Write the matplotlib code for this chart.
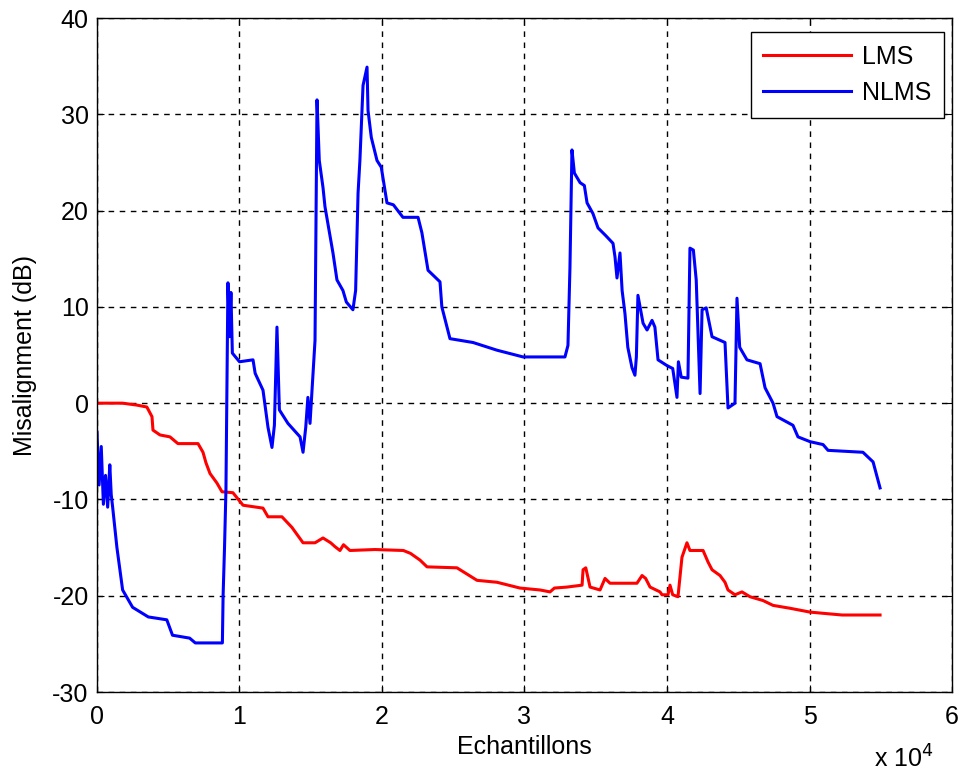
import numpy as np
import matplotlib.pyplot as plt
from matplotlib.ticker import FuncFormatter

plt.rcParams['font.family'] = ['Liberation Sans', 'DejaVu Sans']
plt.rcParams['axes.unicode_minus'] = False

# NLMS misalignment (samples, dB)
nlms_x = [0, 150, 300, 450, 600, 750, 900, 1000, 1100, 1400, 1800, 2500, 3600, 4900, 5300,
          6500, 6900, 8800, 8850, 8950, 9050, 9190, 9300, 9400, 9500, 10000, 10950, 11100,
          11650, 12000, 12280, 12450, 12630, 12800, 13400, 14250, 14460, 14650, 14800, 14950,
          15300, 15440, 15600, 15860, 16000, 16200, 16560, 16840, 17260, 17500, 17960, 18150,
          18320, 18450, 18670, 18950, 19020, 19250, 19650, 19950, 20350, 20800, 21470, 22530,
          22800, 23230, 24070, 24200, 24770, 26390, 28070, 29900, 32840, 33050, 33190, 33330,
          33500, 33900, 34200, 34390, 34800, 35160, 35700, 36210, 36350, 36490, 36700, 36850,
          37050, 37250, 37540, 37750, 37850, 37960, 38320, 38600, 38950, 39150, 39370, 40000,
          40400, 40700, 40800, 41000, 41470, 41610, 41850, 42050, 42320, 42460, 42750, 43160,
          44070, 44280, 44770, 44910, 45100, 45610, 46530, 46880, 47440, 47720, 48840, 49190,
          50040, 50950, 51300, 53750, 54460, 54950]
nlms_y = [-3.0, -8.5, -4.5, -10.5, -7.5, -10.8, -6.4, -9.5, -10.8, -15.0, -19.4, -21.2, -22.2,
          -22.5, -24.1, -24.4, -24.9, -24.9, -20.0, -15.0, -9.0, 12.5, 6.9, 11.5, 5.2, 4.3, 4.5,
          3.1, 1.35, -2.5, -4.6, -2.3, 7.9, -0.7, -2.1, -3.5, -5.1, -2.5, 0.6, -2.1, 6.5, 31.5,
          25.2, 22.4, 20.4, 18.7, 15.6, 12.8, 11.7, 10.5, 9.7, 11.7, 21.8, 25.2, 33.0, 34.9,
          30.4, 27.6, 25.2, 24.5, 20.8, 20.6, 19.3, 19.3, 17.7, 13.8, 12.6, 10.0, 6.7, 6.3, 5.5,
          4.8, 4.8, 6.0, 14.1, 26.3, 23.9, 22.9, 22.6, 20.8, 19.7, 18.2, 17.4, 16.6, 15.2, 13.0,
          15.6, 11.7, 9.3, 5.8, 3.7, 2.9, 4.8, 11.2, 8.3, 7.6, 8.6, 7.9, 4.5, 3.9, 3.6, 0.6, 4.3,
          2.7, 2.6, 16.1, 15.9, 12.8, 1.0, 9.7, 9.9, 6.9, 6.3, -0.5, 0.0, 10.9, 5.8, 4.5, 4.1,
          1.6, 0.0, -1.4, -2.3, -3.5, -4.0, -4.3, -4.9, -5.1, -6.1, -8.8]

# LMS misalignment (samples, dB)
lms_x = [0, 1800, 2800, 3500, 3860, 3930, 4420, 5120, 5680, 7090, 7440, 7650, 7930, 8420,
         8770, 9540, 10250, 11650, 12000, 12980, 13680, 14460, 15300, 15860, 16400, 16700,
         17050, 17300, 17750, 19500, 21500, 22000, 22670, 23160, 25260, 26670, 28070, 29680,
         31090, 31790, 32100, 32980, 34040, 34110, 34300, 34600, 35300, 35650, 36000, 37890,
         38250, 38500, 38810, 39510, 39650, 40070, 40210, 40400, 40770, 41050, 41400, 41610,
         42530, 42880, 43160, 43720, 44070, 44280, 44770, 45260, 45820, 46740, 47440, 48630,
         50040, 52280, 54950]
lms_y = [0.0, 0.0, -0.2, -0.4, -1.4, -2.8, -3.3, -3.5, -4.2, -4.2, -5.1, -6.2, -7.3, -8.3,
         -9.2, -9.3, -10.6, -10.9, -11.8, -11.8, -12.9, -14.5, -14.5, -14.0, -14.5, -14.9,
         -15.3, -14.7, -15.3, -15.2, -15.3, -15.6, -16.3, -17.0, -17.1, -18.4, -18.6, -19.2,
         -19.4, -19.6, -19.2, -19.1, -18.9, -17.3, -17.1, -19.1, -19.4, -18.2, -18.7, -18.7,
         -17.9, -18.2, -19.1, -19.6, -19.9, -19.9, -18.9, -19.9, -20.1, -16.0, -14.5, -15.3,
         -15.3, -16.5, -17.3, -17.9, -18.6, -19.4, -19.9, -19.6, -20.1, -20.5, -21.0, -21.3,
         -21.7, -22.0, -22.0]

fig = plt.figure(figsize=(9.63, 7.76), dpi=100)
ax = fig.add_axes([0.1007, 0.1082, 0.8879, 0.8686])

ax.plot(lms_x, lms_y, color='#ff0000', linewidth=2.2, label='LMS')
ax.plot(nlms_x, nlms_y, color='#0000ff', linewidth=2.2, label='NLMS')

ax.set_xlim(0, 60000)
ax.set_ylim(-30, 40)
ax.set_xticks(np.arange(0, 60001, 10000))
ax.set_yticks(np.arange(-30, 41, 10))
ax.xaxis.set_major_formatter(FuncFormatter(lambda v, p: '%d' % round(v / 1e4)))
ax.grid(True, color='black', linestyle=(0, (4, 4)), linewidth=1)
ax.tick_params(direction='in', top=True, right=True, labelsize=18, length=5)
ax.tick_params(axis='x', pad=9)
ax.tick_params(axis='y', pad=6)
for s in ax.spines.values():
    s.set_linewidth(1)

ax.set_xlabel('Echantillons', fontsize=18, labelpad=5)
ax.set_ylabel('Misalignment (dB)', fontsize=18, labelpad=11)
fig.text(0.908, 0.004, r'x 10$^{4}$', fontsize=18, va='bottom')

leg = ax.legend(loc='upper right', bbox_to_anchor=(0.9906, 0.9792), borderaxespad=0,
                fontsize=18, fancybox=False, framealpha=1, edgecolor='black',
                handlelength=3.5, handletextpad=0.45, borderpad=0.5, labelspacing=0.5)
leg.get_frame().set_linewidth(1)

plt.savefig('out.png', dpi=100)
